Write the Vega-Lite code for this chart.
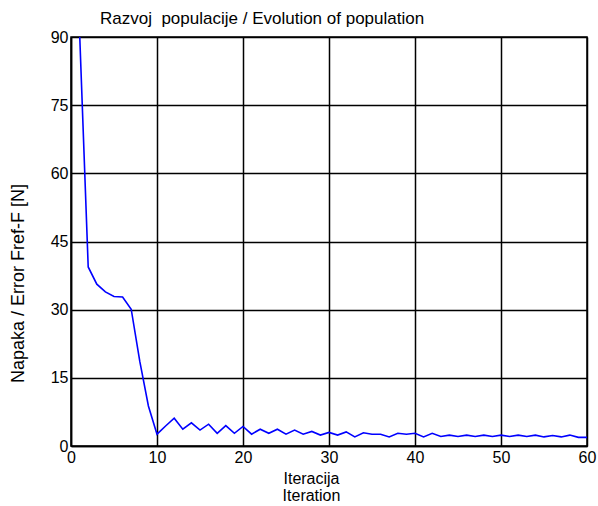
{
  "$schema": "https://vega.github.io/schema/vega-lite/v6.json",
  "autosize": {"type": "none"},
  "padding": {"left": 71, "top": 37, "right": 11, "bottom": 60},
  "width": 516,
  "height": 409,
  "background": "white",
  "title": {
    "text": "Razvoj\u00a0 populacije / Evolution of population",
    "anchor": "start",
    "frame": "group",
    "dx": 29,
    "offset": 1,
    "font": "Liberation Sans",
    "fontSize": 17,
    "fontWeight": "normal",
    "color": "black"
  },
  "config": {
    "view": {"stroke": "black", "strokeWidth": 1.5},
    "axis": {
      "labelFont": "Liberation Sans",
      "labelFontSize": 16,
      "labelColor": "black",
      "titleFont": "Liberation Sans",
      "titleFontWeight": "normal",
      "titleColor": "black",
      "domainColor": "black",
      "domainWidth": 1.5,
      "gridColor": "black",
      "gridWidth": 1.5,
      "gridOpacity": 1,
      "tickColor": "black",
      "tickSize": 4,
      "ticks": false
    }
  },
  "data": {
    "values": [
      {"iter": 1, "err": 91},
      {"iter": 2, "err": 39.4},
      {"iter": 3, "err": 35.6},
      {"iter": 4, "err": 33.9},
      {"iter": 5, "err": 32.9},
      {"iter": 6, "err": 32.8},
      {"iter": 7, "err": 30.1},
      {"iter": 8, "err": 18.6},
      {"iter": 9, "err": 8.8},
      {"iter": 10, "err": 2.6},
      {"iter": 11, "err": 4.4},
      {"iter": 12, "err": 6.1},
      {"iter": 13, "err": 3.7},
      {"iter": 14, "err": 5.1},
      {"iter": 15, "err": 3.5},
      {"iter": 16, "err": 4.8},
      {"iter": 17, "err": 2.8},
      {"iter": 18, "err": 4.5},
      {"iter": 19, "err": 2.8},
      {"iter": 20, "err": 4.3},
      {"iter": 21, "err": 2.6},
      {"iter": 22, "err": 3.7},
      {"iter": 23, "err": 2.8},
      {"iter": 24, "err": 3.7},
      {"iter": 25, "err": 2.6},
      {"iter": 26, "err": 3.5},
      {"iter": 27, "err": 2.6},
      {"iter": 28, "err": 3.2},
      {"iter": 29, "err": 2.4},
      {"iter": 30, "err": 3.0},
      {"iter": 31, "err": 2.4},
      {"iter": 32, "err": 3.1},
      {"iter": 33, "err": 2.0},
      {"iter": 34, "err": 2.9},
      {"iter": 35, "err": 2.6},
      {"iter": 36, "err": 2.6},
      {"iter": 37, "err": 2.0},
      {"iter": 38, "err": 2.8},
      {"iter": 39, "err": 2.6},
      {"iter": 40, "err": 2.8},
      {"iter": 41, "err": 2.0},
      {"iter": 42, "err": 2.8},
      {"iter": 43, "err": 2.1},
      {"iter": 44, "err": 2.4},
      {"iter": 45, "err": 2.1},
      {"iter": 46, "err": 2.4},
      {"iter": 47, "err": 2.1},
      {"iter": 48, "err": 2.4},
      {"iter": 49, "err": 2.1},
      {"iter": 50, "err": 2.4},
      {"iter": 51, "err": 2.1},
      {"iter": 52, "err": 2.4},
      {"iter": 53, "err": 2.1},
      {"iter": 54, "err": 2.4},
      {"iter": 55, "err": 2.0},
      {"iter": 56, "err": 2.3},
      {"iter": 57, "err": 2.0},
      {"iter": 58, "err": 2.4},
      {"iter": 59, "err": 1.9},
      {"iter": 60, "err": 1.9}
    ]
  },
  "mark": {"type": "line", "color": "#0000ff", "strokeWidth": 1.6, "clip": true},
  "encoding": {
    "x": {
      "field": "iter",
      "type": "quantitative",
      "scale": {"domain": [0, 60], "nice": false, "zero": false},
      "axis": {
        "values": [0, 10, 20, 30, 40, 50, 60],
        "title": ["Iteracija", "Iteration"],
        "titleFontSize": 16,
        "titleX": 240,
        "titlePadding": 5,
        "titleLineHeight": 17,
        "labelPadding": 3,
        "labelFlush": false
      }
    },
    "y": {
      "field": "err",
      "type": "quantitative",
      "scale": {"domain": [0, 90], "nice": false},
      "axis": {
        "values": [0, 15, 30, 45, 60, 75, 90],
        "title": "Napaka / Error Fref-F [N]",
        "titleFontSize": 18,
        "titleX": -44,
        "titleY": 246,
        "titleAlign": "center",
        "labelPadding": 3,
        "labelFlush": false
      }
    }
  }
}
